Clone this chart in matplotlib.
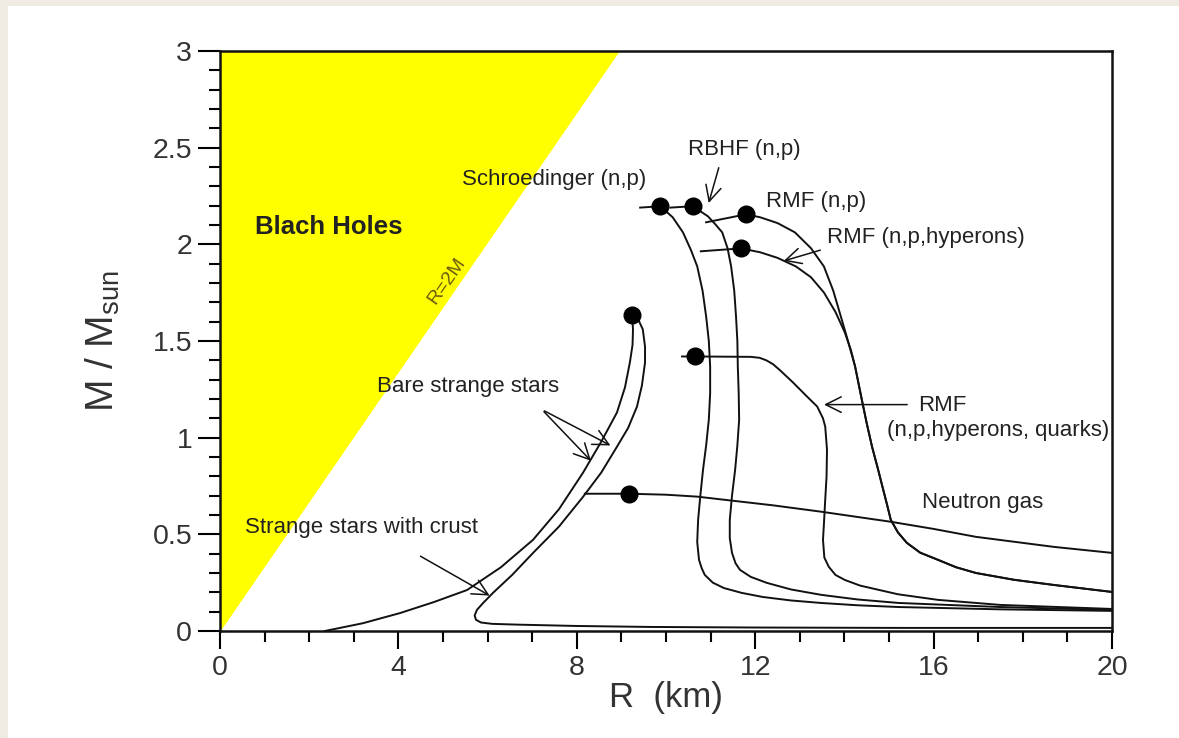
import matplotlib.pyplot as plt
from matplotlib.patches import Rectangle
from matplotlib.ticker import MultipleLocator

plt.rcParams['font.family'] = ['Liberation Sans', 'DejaVu Sans']
plt.rcParams['mathtext.fontset'] = 'custom'
plt.rcParams['mathtext.rm'] = 'Liberation Sans'
plt.rcParams['mathtext.it'] = 'Liberation Sans'

# black hole limit R = 2M (edge of the yellow area)
bh_r = [0.0, 8.95]
bh_m = [0.0, 3.0]

# mass-radius curves, R in km, M in solar masses
schr_r = [9.42, 9.87, 10.15, 10.38, 10.56, 10.70, 10.82, 10.90, 10.96, 10.99, 10.99, 10.96, 10.90,
          10.83, 10.77, 10.72, 10.70, 10.74, 10.80, 10.87, 11.05, 11.30, 11.70, 12.17, 12.80,
          13.48, 14.30, 15.22, 17.50, 20.0]
schr_m = [2.19, 2.197, 2.14, 2.062, 1.97, 1.886, 1.76, 1.627, 1.50, 1.368, 1.23, 1.093, 0.96,
          0.834, 0.70, 0.575, 0.46, 0.368, 0.325, 0.29, 0.25, 0.222, 0.197, 0.176, 0.158,
          0.145, 0.133, 0.124, 0.112, 0.104]

rbhf_r = [10.10, 10.60, 10.94, 11.12, 11.26, 11.38, 11.46, 11.53, 11.57, 11.60, 11.61, 11.63,
          11.64, 11.60, 11.55, 11.48, 11.43, 11.43, 11.48, 11.56, 11.66, 11.90, 12.26, 12.80,
          13.48, 14.30, 15.22, 17.49, 20.0]
rbhf_m = [2.19, 2.197, 2.145, 2.10, 2.062, 1.98, 1.886, 1.76, 1.627, 1.50, 1.368, 1.23,
          1.093, 0.96, 0.834, 0.70, 0.575, 0.48, 0.404, 0.35, 0.316, 0.28, 0.249, 0.215,
          0.187, 0.163, 0.145, 0.124, 0.109]

rmf_r = [10.90, 11.79, 12.11, 12.50, 12.89, 13.25, 13.54, 13.75, 13.92, 14.08, 14.24, 14.39,
         14.50, 14.62, 14.75, 14.87, 14.96, 15.04, 15.20, 15.40, 15.70, 16.10, 16.50, 16.95,
         17.80, 18.70, 20.0]
rmf_m = [2.114, 2.155, 2.14, 2.11, 2.062, 1.98, 1.886, 1.76, 1.627, 1.50, 1.368, 1.197,
         1.075, 0.953, 0.84, 0.731, 0.65, 0.575, 0.51, 0.456, 0.405, 0.368, 0.33, 0.300,
         0.265, 0.238, 0.202]

hyp_r = [10.78, 11.68, 12.11, 12.50, 12.91, 13.25, 13.54, 13.80, 14.01, 14.15, 14.24, 14.39,
         14.50, 14.62, 14.75, 14.87, 14.96, 15.04, 15.20, 15.40, 15.70, 16.10, 16.50, 16.95,
         17.80, 18.70, 20.0]
hyp_m = [1.964, 1.979, 1.959, 1.93, 1.886, 1.83, 1.751, 1.65, 1.544, 1.45, 1.368, 1.197,
         1.075, 0.953, 0.84, 0.731, 0.65, 0.575, 0.51, 0.456, 0.405, 0.368, 0.33, 0.300,
         0.265, 0.238, 0.202]

quark_r = [10.36, 10.65, 11.90, 12.10, 12.25, 12.40, 12.55, 12.85, 13.13, 13.39, 13.52, 13.57,
           13.61, 13.60, 13.57, 13.54, 13.52, 13.55, 13.65, 13.80, 14.01, 14.35, 15.20, 16.10,
           17.49, 20.0]
quark_m = [1.42, 1.42, 1.418, 1.413, 1.40, 1.38, 1.35, 1.285, 1.22, 1.161, 1.10, 1.057,
           0.938, 0.80, 0.679, 0.55, 0.472, 0.38, 0.332, 0.29, 0.264, 0.235, 0.19, 0.161,
           0.135, 0.114]

ngas_r = [8.18, 9.17, 10.0, 10.7, 11.3, 12.4, 13.48, 15.04, 16.0, 16.95, 18.7, 20.0]
ngas_m = [0.71, 0.71, 0.705, 0.695, 0.679, 0.65, 0.617, 0.565, 0.528, 0.487, 0.435, 0.404]

bare_r = [2.35, 3.2, 4.04, 4.8, 5.54, 6.3, 7.02, 7.6, 8.14, 8.55, 8.90, 9.08, 9.19, 9.25, 9.26, 9.24]
bare_m = [0.0, 0.04, 0.093, 0.15, 0.212, 0.33, 0.472, 0.63, 0.819, 0.98, 1.13, 1.26, 1.389,
          1.48, 1.56, 1.632]

crust_r = [9.24, 9.38, 9.48, 9.53, 9.53, 9.46, 9.35, 9.15, 8.90, 8.55, 8.14, 7.6, 7.02, 6.55,
           6.12, 5.90, 5.76, 5.71, 5.74, 5.85, 6.1, 6.66, 8.0, 9.64, 12.0, 15.25, 20.0]
crust_m = [1.632, 1.61, 1.56, 1.47, 1.389, 1.27, 1.161, 1.05, 0.953, 0.82, 0.694, 0.54, 0.404,
           0.29, 0.197, 0.145, 0.109, 0.08, 0.058, 0.044, 0.037, 0.033, 0.026, 0.021, 0.018,
           0.016, 0.016]

# maximum mass points
dot_r = [9.87, 10.60, 11.79, 11.68, 9.24, 10.65, 9.17]
dot_m = [2.197, 2.197, 2.155, 1.979, 1.632, 1.42, 0.71]

fig = plt.figure(figsize=(11.79, 7.38), dpi=100)
fig.patch.set_facecolor('#efebe2')
fig.patches.append(Rectangle((8 / 1179, 0), 1, 732 / 738, transform=fig.transFigure,
                             facecolor='white', edgecolor='none', zorder=-5))
ax = fig.add_axes([220 / 1179, 107 / 738, 892 / 1179, 580 / 738])

ax.fill_betweenx(bh_m, 0, bh_r, color='#ffff00', lw=0, zorder=1)

for r, m in [(schr_r, schr_m), (rbhf_r, rbhf_m), (rmf_r, rmf_m), (hyp_r, hyp_m),
             (quark_r, quark_m), (ngas_r, ngas_m), (bare_r, bare_m), (crust_r, crust_m)]:
    ax.plot(r, m, color='#111111', lw=1.4, zorder=3, solid_joinstyle='round')
ax.plot(dot_r, dot_m, 'o', color='black', ms=12, zorder=4)

tc = '#222222'
fs = 16
ax.text(0.78, 2.09, 'Blach Holes', fontsize=18.5, fontweight='bold', color=tc, va='center')
ax.text(5.09, 1.81, 'R=2M', fontsize=14, color='#6b5a10', rotation=55, ha='center', va='center')
ax.text(5.43, 2.337, 'Schroedinger (n,p)', fontsize=fs, color=tc, va='center')
ax.text(10.5, 2.49, 'RBHF (n,p)', fontsize=fs, color=tc, va='center')
ax.text(12.24, 2.22, 'RMF (n,p)', fontsize=fs, color=tc, va='center')
ax.text(13.6, 2.036, 'RMF (n,p,hyperons)', fontsize=fs, color=tc, va='center')
ax.text(15.65, 1.165, 'RMF', fontsize=fs, color=tc, va='center')
ax.text(14.96, 1.035, '(n,p,hyperons, quarks)', fontsize=fs, color=tc, va='center')
ax.text(15.74, 0.663, 'Neutron gas', fontsize=fs, color=tc, va='center')
ax.text(3.52, 1.264, 'Bare strange stars', fontsize=fs, color=tc, va='center')
ax.text(0.56, 0.534, 'Strange stars with crust', fontsize=fs, color=tc, va='center')

arrow = dict(arrowstyle='->', color='#111111', lw=1.1, mutation_scale=28)
ax.annotate('', xy=(10.94, 2.2), xytext=(11.2, 2.41), arrowprops=arrow)
ax.annotate('', xy=(12.58, 1.91), xytext=(13.52, 1.974), arrowprops=arrow)
ax.annotate('', xy=(13.48, 1.171), xytext=(15.47, 1.171), arrowprops=arrow)
ax.annotate('', xy=(8.81, 0.953), xytext=(7.22, 1.145), arrowprops=arrow)
ax.annotate('', xy=(8.36, 0.870), xytext=(7.22, 1.145), arrowprops=arrow)
ax.annotate('', xy=(6.10, 0.176), xytext=(4.44, 0.394), arrowprops=arrow)

ax.set_xlim(0, 20)
ax.set_ylim(0, 3)
ax.xaxis.set_major_locator(MultipleLocator(4))
ax.xaxis.set_minor_locator(MultipleLocator(1))
ax.yaxis.set_major_locator(MultipleLocator(0.5))
ax.yaxis.set_minor_locator(MultipleLocator(0.1))
ax.set_yticks([0, 0.5, 1, 1.5, 2, 2.5, 3])
ax.set_yticklabels(['0', '0.5', '1', '1.5', '2', '2.5', '3'])
ax.tick_params(which='major', direction='out', width=1.5, labelsize=20.5,
               labelcolor='#333333', pad=4)
ax.tick_params(axis='x', which='major', length=13)
ax.tick_params(axis='y', which='major', length=16)
ax.tick_params(which='minor', direction='out', length=8, width=1.5)
for s in ax.spines.values():
    s.set_linewidth(1.8)
    s.set_color('#111111')

ax.set_xlabel('R  (km)', fontsize=25, color='#333333', labelpad=0)
ax.set_ylabel(r'M / M$_{\rm sun}$', fontsize=28, color='#333333', labelpad=22)

plt.savefig('out.png', dpi=100, facecolor=fig.get_facecolor())
